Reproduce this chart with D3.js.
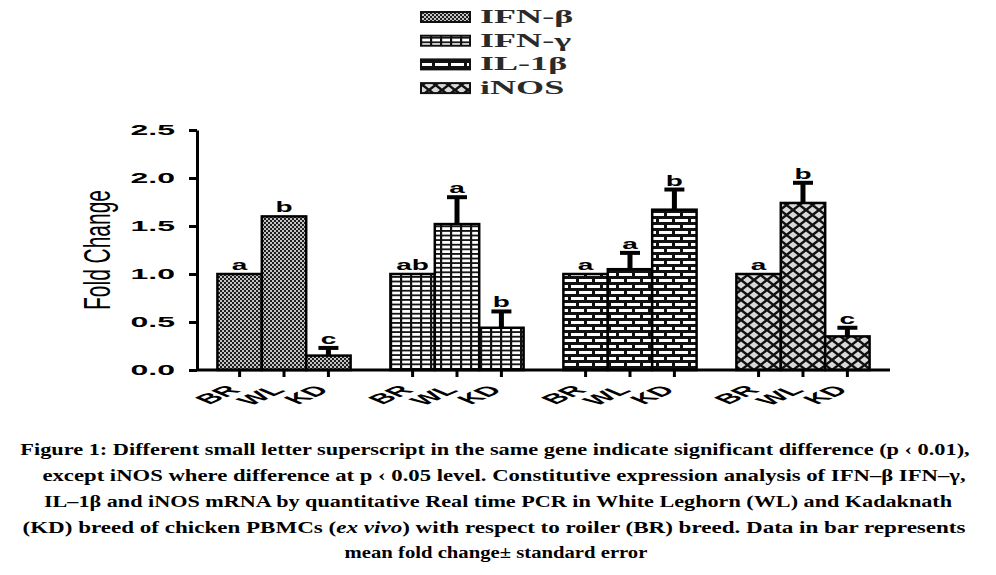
<!DOCTYPE html>
<html>
<head>
<meta charset="utf-8">
<script src="https://cdnjs.cloudflare.com/ajax/libs/d3/7.8.5/d3.min.js"></script>
<style>
  body { margin: 0; background: #fff; }
  svg { display: block; }
</style>
</head>
<body>
<div id="chart"></div>
<script>
// values
const genes = ["IFN-β", "IFN-γ", "IL-1β", "iNOS"];
const breeds = ["BR", "WL", "KD"];
const foldChange = [
  [1.00, 1.60, 0.15],
  [1.00, 1.52, 0.44],
  [1.00, 1.05, 1.67],
  [1.00, 1.74, 0.35]
];
const stdError = [
  [0, 0, 0.08],
  [0, 0.28, 0.17],
  [0, 0.17, 0.21],
  [0, 0.21, 0.09]
];
const sigLetters = [
  ["a", "b", "c"],
  ["ab", "a", "b"],
  ["a", "a", "b"],
  ["a", "b", "c"]
];
const yTicks = [0, 0.5, 1.0, 1.5, 2.0, 2.5];
const yLabel = "Fold Change";
const captionLines = [
  [["Figure 1: Different small letter superscript in the same gene indicate significant difference (p ‹ 0.01),"]],
  [["except iNOS where difference at p ‹ 0.05 level. Constitutive expression analysis of IFN–β IFN–γ,"]],
  [["IL–1β and iNOS mRNA by quantitative Real time PCR in White Leghorn (WL) and Kadaknath"]],
  [["(KD) breed of chicken PBMCs ("], ["ex vivo", true], [") with respect to roiler (BR) breed. Data in bar represents"]],
  [["mean fold change± standard error"]]
];

const W = 996, H = 575;
const sans = "'Liberation Sans', Arial, sans-serif";
const serif = "'Liberation Serif', 'Times New Roman', serif";

const svg = d3.select("#chart").append("svg")
  .attr("width", W)
  .attr("height", H);

// fill patterns
const defs = svg.append("defs");

// IFN-β: fine checker
const p0 = defs.append("pattern").attr("id", "pat0")
  .attr("patternUnits", "userSpaceOnUse").attr("width", 4).attr("height", 4);
p0.append("rect").attr("width", 4).attr("height", 4).attr("fill", "#1e1e1e");
p0.append("rect").attr("x", 0).attr("y", 0).attr("width", 2).attr("height", 2).attr("fill", "#c4c4c4");
p0.append("rect").attr("x", 2).attr("y", 2).attr("width", 2).attr("height", 2).attr("fill", "#c4c4c4");

// IFN-γ: small grid
const p1 = defs.append("pattern").attr("id", "pat1")
  .attr("patternUnits", "userSpaceOnUse").attr("width", 10).attr("height", 4.6);
p1.append("rect").attr("width", 10).attr("height", 4.6).attr("fill", "#fff");
p1.append("rect").attr("width", 10).attr("height", 1.8).attr("fill", "#111");
p1.append("rect").attr("width", 2.2).attr("height", 4.6).attr("fill", "#111");

// IL-1β: bricks
const p2 = defs.append("pattern").attr("id", "pat2")
  .attr("patternUnits", "userSpaceOnUse").attr("width", 16).attr("height", 12);
p2.append("rect").attr("width", 16).attr("height", 12).attr("fill", "#fff");
p2.append("rect").attr("y", 0).attr("width", 16).attr("height", 3).attr("fill", "#111");
p2.append("rect").attr("y", 6).attr("width", 16).attr("height", 3).attr("fill", "#111");
p2.append("rect").attr("x", 0).attr("y", 0).attr("width", 3).attr("height", 6).attr("fill", "#111");
p2.append("rect").attr("x", 8).attr("y", 6).attr("width", 3).attr("height", 6).attr("fill", "#111");

// iNOS: diamond hatch
const p3 = defs.append("pattern").attr("id", "pat3")
  .attr("patternUnits", "userSpaceOnUse").attr("width", 13).attr("height", 10);
p3.append("rect").attr("width", 13).attr("height", 10).attr("fill", "#d9d9d9");
p3.append("path").attr("d", "M0,0L13,10M13,0L0,10")
  .attr("stroke", "#111").attr("stroke-width", 2.5).attr("fill", "none");

// legend
const legend = svg.append("g");
genes.forEach((g, i) => {
  const cy = 17 + i * 23.7;
  legend.append("rect")
    .attr("x", 421).attr("y", cy - 5)
    .attr("width", 49).attr("height", 10)
    .attr("fill", `url(#pat${i})`)
    .attr("stroke", "#111").attr("stroke-width", 2);
  legend.append("text")
    .attr("transform", `translate(480,${cy + 6}) scale(1.9,1)`)
    .attr("font-family", serif)
    .attr("font-weight", "bold")
    .attr("font-size", 19)
    .attr("fill", "#2a2a2a")
    .text(g);
});

// scales
const y = d3.scaleLinear().domain([0, 2.5]).range([370, 130]);
const x0 = d3.scaleBand().domain(genes).range([197, 890])
  .paddingInner(0.23).paddingOuter(0.118);
const x1 = d3.scaleBand().domain(breeds).range([0, x0.bandwidth()]);

const bars = genes.flatMap((g, gi) => breeds.map((b, bi) => ({
  gene: g, gi: gi, breed: b,
  v: foldChange[gi][bi], se: stdError[gi][bi], sig: sigLetters[gi][bi]
})));

const cx = d => x0(d.gene) + x1(d.breed) + x1.bandwidth() / 2;

svg.append("g").selectAll("rect")
  .data(bars)
  .enter().append("rect")
  .attr("x", d => x0(d.gene) + x1(d.breed))
  .attr("y", d => y(d.v))
  .attr("width", x1.bandwidth())
  .attr("height", d => y(0) - y(d.v))
  .attr("fill", d => `url(#pat${d.gi})`)
  .attr("stroke", "#000")
  .attr("stroke-width", 2.5);

// error bars (upper whisker only)
const err = svg.append("g").selectAll("g")
  .data(bars.filter(d => d.se > 0))
  .enter().append("g");
err.append("line")
  .attr("x1", cx).attr("x2", cx)
  .attr("y1", d => y(d.v)).attr("y2", d => y(d.v + d.se))
  .attr("stroke", "#000").attr("stroke-width", 5);
err.append("line")
  .attr("x1", d => cx(d) - 10).attr("x2", d => cx(d) + 10)
  .attr("y1", d => y(d.v + d.se)).attr("y2", d => y(d.v + d.se))
  .attr("stroke", "#000").attr("stroke-width", 4);

// significance letters
svg.append("g").selectAll("text")
  .data(bars)
  .enter().append("text")
  .attr("transform", d => `translate(${cx(d)},${y(d.v + d.se) - 4}) scale(1,0.55)`)
  .attr("text-anchor", "middle")
  .attr("font-family", sans)
  .attr("font-weight", "bold")
  .attr("font-size", 28)
  .text(d => d.sig);

// y axis
const yAxis = svg.append("g")
  .attr("transform", "translate(197,0)")
  .call(d3.axisLeft(y).tickValues(yTicks).tickSize(8).tickSizeOuter(0).tickFormat(d3.format(".1f")));
yAxis.select(".domain").attr("stroke-width", 3);
yAxis.selectAll(".tick line").attr("stroke-width", 3);
yAxis.selectAll(".tick text")
  .attr("x", -22)
  .attr("dy", "0.35em")
  .attr("transform", "scale(1,0.43)")
  .attr("font-family", sans)
  .attr("font-weight", "bold")
  .attr("font-size", 32)
  .attr("fill", "#000");

// baseline
svg.append("line")
  .attr("x1", x0.range()[0]).attr("x2", x0.range()[1])
  .attr("y1", y(0)).attr("y2", y(0))
  .attr("stroke", "#000").attr("stroke-width", 3);

// category ticks and labels per gene group
genes.forEach(g => {
  const ax = svg.append("g")
    .attr("transform", `translate(${x0(g)},${y(0)})`)
    .call(d3.axisBottom(x1).tickSize(7).tickSizeOuter(0));
  ax.select(".domain").remove();
  ax.selectAll(".tick line").attr("stroke-width", 3);
  ax.selectAll(".tick text")
    .attr("y", 0).attr("dy", 0)
    .attr("text-anchor", "end")
    .attr("transform", "translate(2,21) scale(1,0.43) rotate(-45)")
    .attr("font-family", sans)
    .attr("font-weight", "bold")
    .attr("font-size", 32)
    .attr("fill", "#000");
});

// y label
svg.append("text")
  .attr("transform", "translate(110,250) scale(1,0.566) rotate(-90)")
  .attr("text-anchor", "middle")
  .attr("font-family", sans)
  .attr("font-size", 37)
  .text(yLabel);

// caption
const captionRows = [
  { cx: 495, w: 950, y: 455 },
  { cx: 504, w: 924, y: 481 },
  { cx: 498, w: 909, y: 507 },
  { cx: 494, w: 944, y: 533 },
  { cx: 496, w: 303, y: 558 }
];
captionLines.forEach((segs, i) => {
  const r = captionRows[i];
  const t = svg.append("text")
    .attr("text-anchor", "middle")
    .attr("font-family", serif)
    .attr("font-weight", "bold")
    .attr("font-size", 16)
    .attr("fill", "#000");
  segs.forEach(s => {
    t.append("tspan").text(s[0]).attr("font-style", s[1] ? "italic" : null);
  });
  const natural = t.node().getComputedTextLength();
  t.attr("transform", `translate(${r.cx},${r.y}) scale(${r.w / natural},1)`);
});
</script>
</body>
</html>
